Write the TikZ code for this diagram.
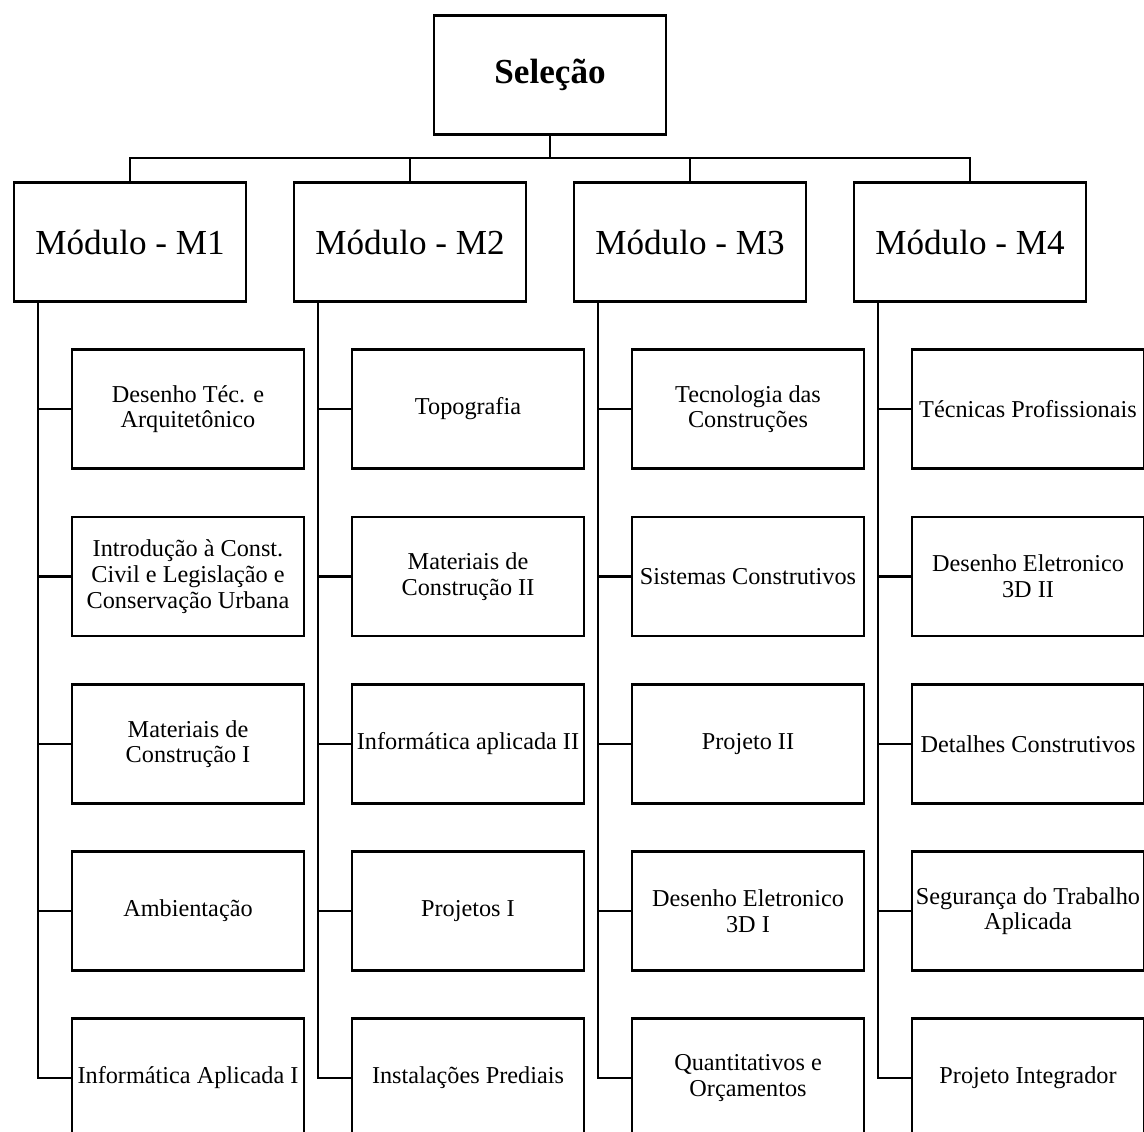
\documentclass[tikz,border=0pt]{standalone}
\usepackage{fontspec}
\setmainfont{Liberation Serif}
\tikzset{
  box/.style={draw, line width=1.2pt, minimum width=4.64cm, minimum height=2.38cm,
    inner sep=0pt, align=center, font=\fontsize{13.8}{14.6}\selectfont},
  modbox/.style={box, font=\fontsize{20}{24}\selectfont},
  topbox/.style={box, font=\fontsize{20}{24}\selectfont\bfseries},
  link/.style={line width=1.2pt}
}
\begin{document}
\begin{tikzpicture}
    \useasboundingbox (0,0) rectangle (22.88,-22.62);
    \clip (0,0) rectangle (22.88,-22.62);
    % top and modules
    \node[topbox] (sel) at (11,-1.5) {Seleção};
    \node[modbox] (m1) at (2.6,-4.84) {Módulo - M1};
    \node[modbox] (m2) at (8.2,-4.84) {Módulo - M2};
    \node[modbox] (m3) at (13.8,-4.84) {Módulo - M3};
    \node[modbox] (m4) at (19.4,-4.84) {Módulo - M4};
    % M1
    \node[box] (s11) at (3.76,-8.18) {Desenho Téc. e\\Arquitetônico};
    \node[box] (s12) at (3.76,-11.53) {Introdução à Const.\\Civil e Legislação e\\Conservação Urbana};
    \node[box] (s13) at (3.76,-14.88) {Materiais de\\Construção I};
    \node[box] (s14) at (3.76,-18.22) {Ambientação};
    \node[box] (s15) at (3.76,-21.56) {Informática Aplicada I};
    % M2
    \node[box] (s21) at (9.36,-8.18) {Topografia};
    \node[box] (s22) at (9.36,-11.53) {Materiais de\\Construção II};
    \node[box] (s23) at (9.36,-14.88) {Informática aplicada II};
    \node[box] (s24) at (9.36,-18.22) {Projetos I};
    \node[box] (s25) at (9.36,-21.56) {Instalações Prediais};
    % M3
    \node[box] (s31) at (14.96,-8.18) {Tecnologia das\\Construções};
    \node[box] (s32) at (14.96,-11.53) {Sistemas Construtivos};
    \node[box] (s33) at (14.96,-14.88) {Projeto II};
    \node[box] (s34) at (14.96,-18.22) {Desenho Eletronico\\3D I};
    \node[box] (s35) at (14.96,-21.56) {Quantitativos e\\Orçamentos};
    % M4
    \node[box] (s41) at (20.56,-8.18) {Técnicas Profissionais};
    \node[box] (s42) at (20.56,-11.53) {Desenho Eletronico\\3D II};
    \node[box] (s43) at (20.56,-14.88) {Detalhes Construtivos};
    \node[box] (s44) at (20.56,-18.22) {Segurança do Trabalho\\Aplicada};
    \node[box] (s45) at (20.56,-21.56) {Projeto Integrador};
    % bus
    \coordinate (bus) at (0,-3.16);
    \draw[link] (sel.south) -- (sel.south |- bus);
    \draw[link] (m1.north) |- (bus -| m4.north) -- (m4.north);
    \draw[link] (m2.north) -- (m2.north |- bus);
    \draw[link] (m3.north) -- (m3.north |- bus);
    % trunks
    \coordinate (t1) at ([xshift=0.5cm]m1.south west);
    \coordinate (t2) at ([xshift=0.5cm]m2.south west);
    \coordinate (t3) at ([xshift=0.5cm]m3.south west);
    \coordinate (t4) at ([xshift=0.5cm]m4.south west);
    \draw[link] (t1) |- (s15.west);
    \draw[link] (t2) |- (s25.west);
    \draw[link] (t3) |- (s35.west);
    \draw[link] (t4) |- (s45.west);
    \draw[link] (t1 |- s11.west) -- (s11.west);
    \draw[link] (t1 |- s12.west) -- (s12.west);
    \draw[link] (t1 |- s13.west) -- (s13.west);
    \draw[link] (t1 |- s14.west) -- (s14.west);
    \draw[link] (t2 |- s21.west) -- (s21.west);
    \draw[link] (t2 |- s22.west) -- (s22.west);
    \draw[link] (t2 |- s23.west) -- (s23.west);
    \draw[link] (t2 |- s24.west) -- (s24.west);
    \draw[link] (t3 |- s31.west) -- (s31.west);
    \draw[link] (t3 |- s32.west) -- (s32.west);
    \draw[link] (t3 |- s33.west) -- (s33.west);
    \draw[link] (t3 |- s34.west) -- (s34.west);
    \draw[link] (t4 |- s41.west) -- (s41.west);
    \draw[link] (t4 |- s42.west) -- (s42.west);
    \draw[link] (t4 |- s43.west) -- (s43.west);
    \draw[link] (t4 |- s44.west) -- (s44.west);
\end{tikzpicture}
\end{document}
